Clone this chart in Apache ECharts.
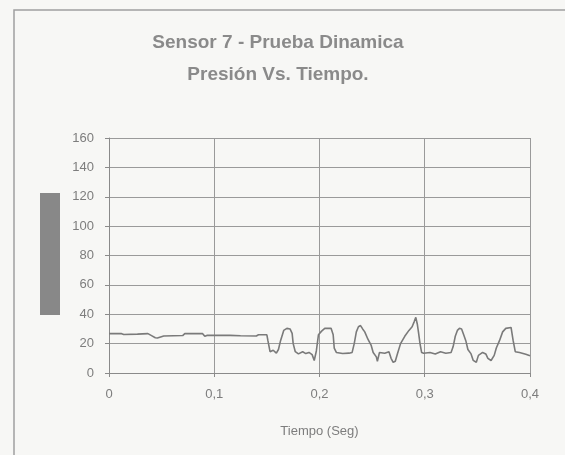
<!DOCTYPE html>
<html>
<head>
<meta charset="utf-8">
<script src="https://cdn.jsdelivr.net/npm/echarts@6/dist/echarts.min.js"></script>
<style>
html,body{margin:0;padding:0;background:#f7f7f5;}
#c{width:565px;height:455px;}
</style>
</head>
<body>
<div id="c"></div>
<script>
var titleLines = ['Sensor 7 - Prueba Dinamica', 'Presión Vs. Tiempo.'];
var xAxisName = 'Tiempo (Seg)';
var xTicks = [0, 0.1, 0.2, 0.3, 0.4];
var yTicks = [0, 20, 40, 60, 80, 100, 120, 140, 160];
var tiempo = [0, 0.012, 0.014, 0.027, 0.037, 0.04, 0.044, 0.046, 0.052, 0.07, 0.072, 0.089, 0.091, 0.093, 0.115, 0.125, 0.14, 0.142, 0.15, 0.151, 0.153, 0.156, 0.159, 0.161, 0.163, 0.166, 0.169, 0.172, 0.174, 0.175, 0.177, 0.18, 0.184, 0.187, 0.19, 0.193, 0.195, 0.197, 0.199, 0.202, 0.205, 0.211, 0.213, 0.214, 0.216, 0.222, 0.228, 0.231, 0.233, 0.235, 0.237, 0.239, 0.241, 0.243, 0.246, 0.249, 0.251, 0.254, 0.255, 0.257, 0.262, 0.266, 0.268, 0.27, 0.272, 0.274, 0.277, 0.281, 0.285, 0.288, 0.29, 0.2915, 0.293, 0.294, 0.2955, 0.297, 0.299, 0.305, 0.31, 0.315, 0.32, 0.325, 0.327, 0.329, 0.331, 0.333, 0.335, 0.337, 0.339, 0.341, 0.344, 0.346, 0.349, 0.351, 0.355, 0.358, 0.36, 0.363, 0.366, 0.368, 0.371, 0.374, 0.377, 0.382, 0.384, 0.386, 0.39, 0.396, 0.4];
var presion = [26.8, 26.8, 26.2, 26.5, 26.8, 25.6, 24, 23.8, 25.2, 25.5, 26.8, 26.8, 25.0, 25.6, 25.6, 25.4, 25.2, 26, 26, 22, 14.5, 15.5, 13.5, 16, 22, 29, 30.4, 30, 27, 20, 14.5, 13, 14.5, 13.2, 14, 12.5, 8.5, 15, 26, 28.5, 30.4, 30.4, 26, 17, 14, 13.3, 13.5, 14, 20, 28, 31.5, 32.3, 30, 28, 23, 19, 14, 11, 8, 14, 13.5, 14.5, 10, 7.3, 8, 13, 20, 25, 29, 31.5, 35, 37.9, 33, 28, 20, 14, 13.5, 14, 13, 14.5, 13.5, 14, 18, 25, 29, 30.4, 30, 26, 22, 16, 13, 8.6, 7.3, 12, 14, 13, 10, 8.5, 12, 17, 22, 28, 30.4, 31, 22, 14.5, 14, 12.8, 11.8];

var data = tiempo.map(function (t, i) { return [t, presion[i]]; });
var chart = echarts.init(document.getElementById('c'));
var txt = '#7d7d7d';
chart.setOption({
  backgroundColor: '#f7f7f5',
  animation: false,
  title: {
    text: titleLines.join('\n'),
    left: 273, top: 22, textAlign: 'center',
    textStyle: { fontFamily: 'Liberation Sans', fontWeight: 'bold', fontSize: 19, color: '#8a8a8a', lineHeight: 32 }
  },
  grid: { left: 109, right: 35, top: 138, bottom: 82 },
  xAxis: {
    type: 'value', min: 0, max: 0.4, interval: 0.1,
    name: xAxisName, nameLocation: 'middle', nameGap: 52,
    nameTextStyle: { fontFamily: 'Liberation Sans', fontSize: 13, color: txt },
    axisLine: { show: true, lineStyle: { color: '#8a8a8a', width: 1 } },
    axisTick: { show: true, inside: false, length: 4, lineStyle: { color: '#8a8a8a' } },
    axisLabel: { margin: 15, fontFamily: 'Liberation Sans', fontSize: 13, color: txt,
      formatter: function (v) { return String(Math.round(v * 10) / 10).replace('.', ','); } },
    splitLine: { show: true, lineStyle: { color: '#9a9a9a', width: 1 } }
  },
  yAxis: {
    type: 'value', min: 0, max: 160, interval: 20,
    axisLine: { show: true, lineStyle: { color: '#8a8a8a', width: 1 } },
    axisTick: { show: true, inside: false, length: 4, lineStyle: { color: '#8a8a8a' } },
    axisLabel: { margin: 15, fontFamily: 'Liberation Sans', fontSize: 13, color: txt },
    splitLine: { show: true, lineStyle: { color: '#9a9a9a', width: 1 } }
  },
  graphic: [
    { type: 'polyline', shape: { points: [[14, 455], [14, 10], [565, 10]] }, style: { stroke: '#a0a0a0', lineWidth: 1.5, fill: null } },
    { type: 'rect', shape: { x: 40, y: 193, width: 20, height: 122 }, style: { fill: '#888888' } }
  ],
  series: [{
    type: 'line', data: data, showSymbol: false, symbol: 'none',
    lineStyle: { color: '#7a7a7a', width: 1.6 }
  }]
});
</script>
</body>
</html>
